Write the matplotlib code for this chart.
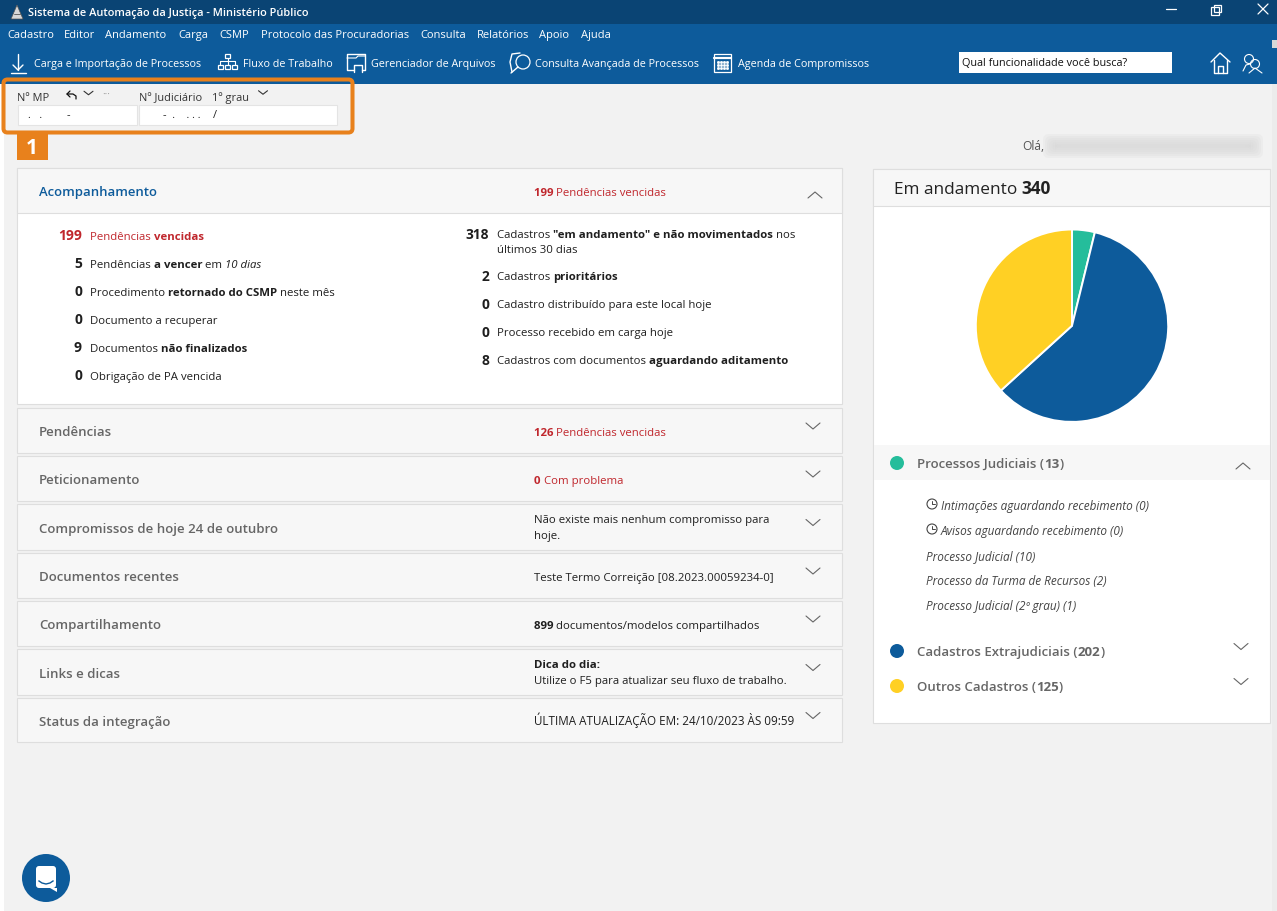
import matplotlib
matplotlib.use("Agg")
import matplotlib.pyplot as plt
from matplotlib.patches import Rectangle, FancyBboxPatch, Circle, Polygon

W, H = 1277, 911
FONT = "Open Sans"
plt.rcParams['font.family'] = [FONT, 'DejaVu Sans']

# ---- data ----
pie_labels = ["Processos Judiciais", "Cadastros Extrajudiciais", "Outros Cadastros"]
pie_values = [13, 202, 125]
pie_colors = ["#25BD9B", "#0D5B9B", "#FFD024"]
total_label = 340
menu_items = ["Cadastro", "Editor", "Andamento", "Carga", "CSMP", "Protocolo das Procuradorias",
              "Consulta", "Relatórios", "Apoio", "Ajuda"]
menu_x = [7, 64, 105, 178, 219, 261, 420, 477, 539, 581]
toolbar_items = ["Carga e Importação de Processos", "Fluxo de Trabalho", "Gerenciador de Arquivos",
                 "Consulta Avançada de Processos", "Agenda de Compromissos"]
toolbar_x = [34, 243, 371, 535, 738]
left_counts = ["199", "5", "0", "0", "9", "0"]
right_counts = ["318", "2", "0", "0", "8"]
row_titles = ["Pendências", "Peticionamento", "Compromissos de hoje 24 de outubro", "Documentos recentes",
              "Compartilhamento", "Links e dicas", "Status da integração"]
sub_items = ["Intimações aguardando recebimento (0)", "Avisos aguardando recebimento (0)", "Processo Judicial (10)",
             "Processo da Turma de Recursos (2)", "Processo Judicial (2º grau) (1)"]

DARK = "#1f1f1f"
GREY = "#666666"
RED = "#C0272D"
BLUE = "#0D5B9B"
NAVY = "#0A4474"
BORDER = "#dedede"
BODY = 11.4

fig = plt.figure(figsize=(W / 100, H / 100), dpi=100, facecolor="#f2f2f2")
ax = fig.add_axes([0, 0, 1, 1])
ax.set_xlim(0, W)
ax.set_ylim(H, 0)
ax.axis("off")
renderer = fig.canvas.get_renderer()


def rect(x0, y0, x1, y1, fc, ec="none", lw=0, z=1):
    ax.add_patch(Rectangle((x0, y0), x1 - x0, y1 - y0, facecolor=fc, edgecolor=ec, linewidth=lw, zorder=z))


def line(xs, ys, c=DARK, lw=1.0, z=6):
    ax.plot(xs, ys, color=c, lw=lw, zorder=z, solid_capstyle="round", solid_joinstyle="round")


def txt(x, y, s, px=11, c=DARK, w="normal", st="normal", ha="left", z=7):
    # y is the visual middle of x-height/caps; drawn on a baseline so mixed runs line up
    return ax.text(x, y + px * 0.36, s, fontsize=px * 0.72, color=c, fontweight=w, fontstyle=st, ha=ha,
                   va="baseline", family=[FONT, 'DejaVu Sans'], zorder=z)


def rich(x, y, parts, px=BODY):
    """parts: (string, weight, color, style)"""
    for p in parts:
        s, wt, col, sty = (list(p) + ["normal", DARK, "normal"][len(p) - 1:])[:4]
        t = txt(x, y, s.replace(" ", "\u00a0"), px=px, c=col, w=wt, st=sty)
        x = t.get_window_extent(renderer).x1


def chev(cx, cy, up=False, hw=6.5, hh=5, c="#666666", lw=0.8):
    d = -1 if up else 1
    line([cx - hw, cx, cx + hw], [cy - d * hh / 2, cy + d * hh / 2, cy - d * hh / 2], c=c, lw=lw)


# page frame
rect(0, 0, W, 24, NAVY)
rect(0, 24, W, 84, BLUE)
rect(0, 84, 4, H, "#ffffff")
rect(1272, 84, W, H, "#ececec")
rect(1272, 40, W, 48, "#d8d8d8", z=2)

# title bar
ax.add_patch(Polygon([[11, 19], [17, 5], [23, 19]], closed=True, facecolor="#d7d7d7", edgecolor="#555555", lw=0.5, zorder=6))
line([14, 20], [14, 14], c="#555555", lw=0.6)
txt(28, 12, "Sistema de Automação da Justiça - Ministério Público", px=11, c="#ffffff", w="semibold")
line([1166, 1176], [9, 9], c="#ffffff", lw=0.9)
rect(1211, 7, 1219, 15, "none", ec="#ffffff", lw=0.9, z=6)
rect(1213.5, 4.5, 1221, 12, "none", ec="#ffffff", lw=0.9, z=5)
line([1258, 1268], [4, 14], c="#ffffff", lw=0.9)
line([1258, 1268], [14, 4], c="#ffffff", lw=0.9)

# menus
for label, x in zip(menu_items, menu_x):
    txt(x, 34, label, px=11.15, c="#ffffff")
for label, x in zip(toolbar_items, toolbar_x):
    txt(x, 63, label, px=10.8, c="#ffffff")

# toolbar icons
W_ = "#ffffff"
line([18, 18], [54, 70], c=W_)
line([13, 18, 23], [65, 70, 65], c=W_)
line([11, 26], [73, 73], c=W_)
rect(225, 54, 230, 58, "none", ec=W_, lw=0.9, z=6)
for xx in (218, 225, 232):
    rect(xx, 65, xx + 5, 69, "none", ec=W_, lw=0.9, z=6)
line([220, 220, 235, 235], [65, 61, 61, 65], c=W_, lw=0.8)
line([227.5, 227.5], [58, 65], c=W_, lw=0.8)
line([354, 347, 347, 365, 365, 362], [70, 70, 54, 54, 70, 70], c=W_)
line([347, 356, 358, 365], [58, 58, 56, 56], c=W_, lw=0.8)
line([354, 354, 362, 362], [72, 65, 65, 72], c=W_)
line([520, 512, 510, 512], [53, 54, 62, 72], c=W_)
ax.add_patch(Circle((523, 62), 7, fill=False, ec=W_, lw=0.9, zorder=6))
line([518, 511], [67, 73], c=W_)
rect(714, 54, 731, 72, "none", ec=W_, lw=0.9, z=6)
line([714, 731], [58, 58], c=W_, lw=1.6)
for yy in (62, 65, 68):
    ax.plot([718, 721, 724, 727], [yy] * 4, ls="none", marker="s", ms=1, color=W_, zorder=6)

# search box
rect(959, 52, 1172, 73, "#ffffff", z=3)
txt(962, 62, "Qual funcionalidade você busca?", px=10.9, c="#111111")

# home / user icons
line([1211, 1220, 1230], [62, 53, 62], c=W_)
line([1214, 1214, 1227, 1227], [60, 73, 73, 60], c=W_)
line([1218, 1218, 1223, 1223], [73, 66, 66, 73], c=W_)
ax.add_patch(Circle((1249, 59), 4.5, fill=False, ec=W_, lw=0.8, zorder=6))
ax.add_patch(Circle((1255, 64), 4.5, fill=False, ec=W_, lw=0.8, zorder=6))
line([1243, 1246, 1250], [71, 65, 64], c=W_, lw=0.8)
line([1249, 1255, 1262], [73, 68, 73], c=W_, lw=0.8)

# number search strip
rect(18, 105, 136.5, 124.5, "#ffffff", ec="#e4e4e4", lw=0.8, z=3)
rect(139, 105, 336.5, 124.5, "#ffffff", ec="#e4e4e4", lw=0.8, z=3)
txt(17, 97, "Nº MP", px=11, c="#333333")
txt(139, 97, "Nº Judiciário", px=11, c="#333333")
txt(212, 97, "1º grau", px=11, c="#333333")
txt(28, 114, ".   .", px=11, c="#222222")
txt(67, 114, "-", px=11, c="#222222")
txt(163, 114, "-  .    . . .", px=11, c="#222222")
txt(213, 114, "/", px=11, c="#222222")
line([67, 73, 76, 76], [94, 94, 96, 99], c="#111111", lw=0.9)
line([70, 67, 70], [91, 94, 97], c="#111111", lw=0.9)
chev(88.5, 93, hw=4.5, hh=3.5, c="#333333")
txt(102, 94, "···", px=10, c="#999999")
chev(263, 92.5, hw=4.5, hh=3.5, c="#333333")

# orange annotation
ax.add_patch(FancyBboxPatch((3.5, 79.5), 349, 53, boxstyle="round,pad=0,rounding_size=4", fill=False,
                            ec="#E8811C", lw=2.9, zorder=8))
rect(17, 134, 48, 160, "#E8811C", z=8)
txt(31.5, 146.5, "1", px=21, c="#ffffff", w="bold", ha="center", z=9)

# greeting with blurred name
txt(1022, 146, "Olá,", px=12, c="#555555")
for i in range(7):
    pad = 7 - i * 2
    ax.add_patch(FancyBboxPatch((1050 - pad, 141 - pad), 206 + 2 * pad, 10 + 2 * pad,
                                boxstyle="round,pad=0,rounding_size=6", fc="#d6d6d6", ec="none",
                                alpha=0.2, zorder=3))

# accordion: opened panel
rect(17, 168, 842, 404, "#ffffff", ec=BORDER, lw=0.8, z=2)
rect(17, 168, 842, 213, "#f7f7f7", ec=BORDER, lw=0.8, z=3)
txt(39, 191, "Acompanhamento", px=13.1, c=BLUE, w="semibold")
rich(534, 191.5, [("199 ", "bold", RED), ("Pendências vencidas", "normal", RED)])
chev(815, 195, up=True, hw=7, hh=6)

left_y = [236, 264, 292, 320, 348, 376]
left_txt = [
    [("Pendências ", "normal", RED), ("vencidas", "bold", RED)],
    [("Pendências ",), ("a vencer", "bold"), (" em ",), ("10 dias", "normal", DARK, "italic")],
    [("Procedimento ",), ("retornado do CSMP", "bold"), (" neste mês",)],
    [("Documento a recuperar",)],
    [("Documentos ",), ("não finalizados", "bold")],
    [("Obrigação de PA vencida",)],
]
for i, (n, y, parts) in enumerate(zip(left_counts, left_y, left_txt)):
    txt(82, y - 0.5, n, px=13.8, c=RED if i == 0 else DARK, w="bold", ha="right")
    rich(90, y, parts)

right_y = [234, 276, 304, 332, 360]
right_txt = [
    [("Cadastros ",), ('"em andamento" e não movimentados', "bold"), (" nos",)],
    [("Cadastros ",), ("prioritários", "bold")],
    [("Cadastro distribuído para este local hoje",)],
    [("Processo recebido em carga hoje",)],
    [("Cadastros com documentos ",), ("aguardando aditamento", "bold")],
]
for n, y, parts in zip(right_counts, right_y, right_txt):
    txt(489, y + 0.5, n, px=13.8, w="bold", ha="right")
    rich(497, y, parts)
txt(497, 249, "últimos 30 dias", px=BODY)

# accordion: closed rows
row_tops = [408, 456, 504, 553, 601, 649, 698]
row_bots = [453, 501, 550, 598, 646, 695, 742]
row_info = [
    [[("126 ", "bold", RED), ("Pendências vencidas", "normal", RED)]],
    [[("0 ", "bold", RED), ("Com problema", "normal", RED)]],
    [[("Não existe mais nenhum compromisso para",)], [("hoje.",)]],
    [[("Teste Termo Correição [08.2023.00059234-0]",)]],
    [[("899 ", "bold"), ("documentos/modelos compartilhados",)]],
    [[("Dica do dia:", "bold")], [("Utilize o F5 para atualizar seu fluxo de trabalho.",)]],
    [[("ÚLTIMA ATUALIZAÇÃO EM: 24/10/2023 ÀS 09:59",)]],
]
for k, (title, y0, y1, info) in enumerate(zip(row_titles, row_tops, row_bots, row_info)):
    rect(17, y0, 842, y1, "#f7f7f7", ec=BORDER, lw=0.8, z=2)
    cy = (y0 + y1) / 2
    txt(39, cy + 1, title, px=13.3, c=GREY, w="semibold")
    if len(info) == 2:
        rich(534, cy - 8, info[0])
        rich(534, cy + 7.5, info[1])
    else:
        rich(534, cy + 1, info[0], px=11.66 if k == 6 else BODY)
    chev(813, cy - 4.5, hw=7, hh=6)

# right card
rect(873, 168.5, 1270, 723, "#ffffff", ec=BORDER, lw=0.8, z=2)
rect(873, 168.5, 1270, 206, "#f7f7f7", ec=BORDER, lw=0.8, z=3)
rich(894, 188, [("Em andamento ", "normal", "#222222"), (str(total_label), "bold", "#222222")], px=17.2)
rect(874, 445, 1270, 480, "#f7f7f7", z=3)

# pie chart
cx, cy, r = 1072, 325.7, 96.2
pie_ax = fig.add_axes([(cx - r) / W, 1 - (cy + r) / H, 2 * r / W, 2 * r / H], zorder=5)
pie_ax.pie(pie_values, colors=pie_colors, startangle=90, counterclock=False, radius=1.0,
           wedgeprops=dict(edgecolor="#ffffff", linewidth=1.4))
pie_ax.set_xlim(-1, 1)
pie_ax.set_ylim(-1, 1)
pie_ax.set_aspect("equal")
pie_ax.axis("off")

# legend rows
leg_y = [463, 651, 686]
for label, value, color, y in zip(pie_labels, pie_values, pie_colors, leg_y):
    ax.add_patch(Circle((897, y), 7, fc=color, ec="none", zorder=6))
    rich(917, y + 0.5, [(label + " (", "semibold", GREY), (str(value), "bold", GREY), (")", "semibold", GREY)], px=13.2)
chev(1243, 466, up=True, hw=7, hh=6)
chev(1241, 646.5, hw=7, hh=6)
chev(1241, 681.5, hw=7, hh=6)

sub_y = [506, 531, 556, 581, 606]
for i, (s, y) in enumerate(zip(sub_items, sub_y)):
    txt(941 if i < 2 else 926, y, s, px=11.7, c="#444444", st="italic")
    if i < 2:
        ax.add_patch(Circle((932, y - 2), 5, fill=False, ec="#444444", lw=0.8, zorder=6))
        line([932, 932, 935], [y - 5, y - 2, y - 2], c="#444444", lw=0.7)

# chat bubble
ax.add_patch(Circle((46, 878), 24, fc=BLUE, ec="none", zorder=6))
ax.add_patch(FancyBboxPatch((36, 866), 20, 22, boxstyle="round,pad=0,rounding_size=3", fc="#ffffff", ec="none", zorder=7))
ax.add_patch(Polygon([[50, 888], [57, 888], [57, 892]], closed=True, fc="#ffffff", ec="none", zorder=7))
ax.plot([39, 42, 46, 50, 53], [881, 883, 884, 883, 881], color=BLUE, lw=1, zorder=8)

fig.savefig("out.png", dpi=100, facecolor=fig.get_facecolor())
